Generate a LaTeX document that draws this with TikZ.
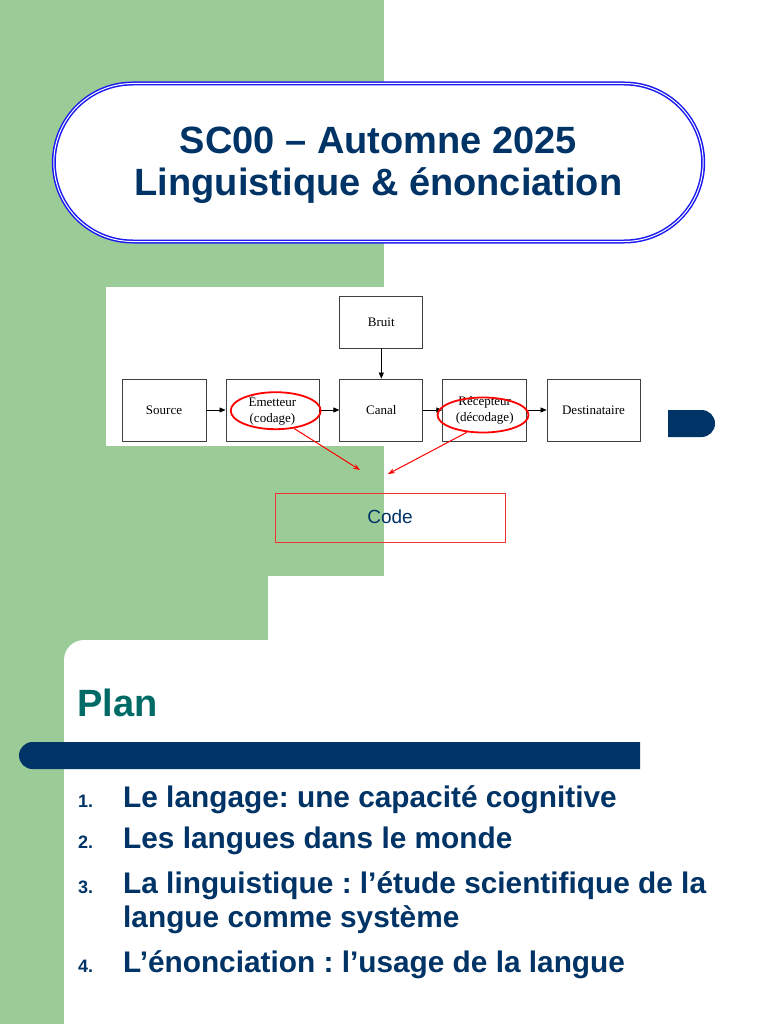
\documentclass[tikz,border=0pt]{standalone}
\usepackage{fontspec}
\setmainfont{Liberation Sans}
\newfontfamily\tmsfont{Liberation Serif}
\usetikzlibrary{arrows.meta,shapes.geometric,shapes.misc}
\definecolor{bggreen}{RGB}{155,204,152}
\definecolor{navy}{RGB}{0,51,102}
\definecolor{plantal}{RGB}{0,107,102}
\definecolor{ttlblue}{RGB}{25,25,240}
\definecolor{codered}{RGB}{240,50,50}
\frenchspacing
\begin{document}
\begin{tikzpicture}[x=1pt,y=-1pt,
  diagbox/.style={draw=black!75,line width=0.8pt,fill=white,inner sep=0pt,
    font=\tmsfont\fontsize{13}{16}\selectfont,align=center},
  sarrow/.style={-{Triangle[length=6pt,width=5pt]},black,line width=0.7pt},
  redring/.style={draw=red,line width=1.8pt,ellipse,inner sep=0pt},
  redarrow/.style={-{Stealth[length=7pt,width=5pt]},red,line width=1pt},
  listnum/.style={anchor=base west,font=\bfseries\fontsize{18}{20}\selectfont,text=navy,inner sep=0pt},
  listtxt/.style={anchor=base west,font=\bfseries\fontsize{29.8}{34}\selectfont,text=navy,inner sep=0pt}]
\useasboundingbox (0,0) rectangle (768,1024);
\fill[white] (0,0) rectangle (768,1024);
% green background
\fill[bggreen] (0,0) rectangle (384,576);
\fill[bggreen] (0,570) rectangle (268,680);
\fill[bggreen] (0,640) rectangle (64,1024);
\fill[white,rounded corners=20pt] (64,640) rectangle (900,1200);
% title
\node[rounded rectangle,draw=ttlblue,double=white,double distance=1pt,line width=1.5pt,
  fill=white,minimum width=656pt,minimum height=158pt] (title) at (378.5,162.5) {};
\node[text=navy,font=\bfseries\fontsize{38}{42}\selectfont,align=center] (titletext)
  at ([yshift=-3pt]title.center) {SC00 – Automne 2025\\Linguistique \& énonciation};
% diagram background
\fill[white] (106,287) rectangle (646,446);
\node[diagbox,minimum width=83pt,minimum height=52pt] (bruit) at (381.3,322) {Bruit};
\node[diagbox,minimum width=84pt,minimum height=62pt] (source) at (164,410) {Source};
\node[diagbox,minimum width=93pt,minimum height=62pt] (emet) at (272.4,410) {Émetteur\\(codage)};
\node[diagbox,minimum width=83pt,minimum height=62pt] (canal) at (381.3,410) {Canal};
\node[diagbox,minimum width=84pt,minimum height=62pt] (recep) at (484.7,410) {Récepteur\\(décodage)};
\node[diagbox,minimum width=93pt,minimum height=62pt] (dest) at (593.5,410) {Destinataire};
\draw[sarrow] (source) -- (emet);
\draw[sarrow] (emet) -- (canal);
\draw[sarrow] (canal) -- (recep);
\draw[sarrow] (recep) -- (dest);
\draw[sarrow] (bruit) -- (canal);
% red ellipses
\node[redring,minimum width=90pt,minimum height=37pt] (e1) at (275.7,410.7) {};
\node[redring,minimum width=91pt,minimum height=35pt] (e2) at (483,415) {};
\coordinate (c1) at (360,470);
\coordinate (c2) at (388,474);
\draw[redarrow] (e1.-44) -- (c1);
\draw[redarrow] (e2.-133) -- (c2);
% code box
\node[draw=codered,line width=1pt,minimum width=230pt,minimum height=49pt,
  text=navy,font=\fontsize{19}{21}\selectfont] (code) at (390,517.5) {\raisebox{1.5pt}{Code}};
% navy D shape
\fill[navy] (668,410) -- (701.5,410) arc[start angle=90,end angle=-90,radius=13.5pt] -- (668,437) -- cycle;
% Plan
\node[anchor=base west,text=plantal,font=\bfseries\fontsize{38}{40}\selectfont,inner sep=0pt] (plan) at (77,716) {Plan};
\fill[navy] (32.5,742) -- (640,742) -- (640,769) -- (32.5,769) arc[start angle=-90,end angle=-270,radius=13.5pt] -- cycle;
% list
\node[listnum] (n1) at (78,807) {1.};
\node[listtxt] (t1) at (123,807) {Le langage: une capacité cognitive};
\node[listnum] (n2) at (78,848) {2.};
\node[listtxt] (t2) at (123,848) {Les langues dans le monde};
\node[listnum] (n3) at (78,893) {3.};
\node[listtxt] (t3) at (123,893) {La linguistique : l’étude scientifique de la};
\node[listtxt] (t3b) at (123,927) {langue comme système};
\node[listnum] (n4) at (78,972) {4.};
\node[listtxt] (t4) at (123,972) {L’énonciation : l’usage de la langue};
\end{tikzpicture}
\end{document}
